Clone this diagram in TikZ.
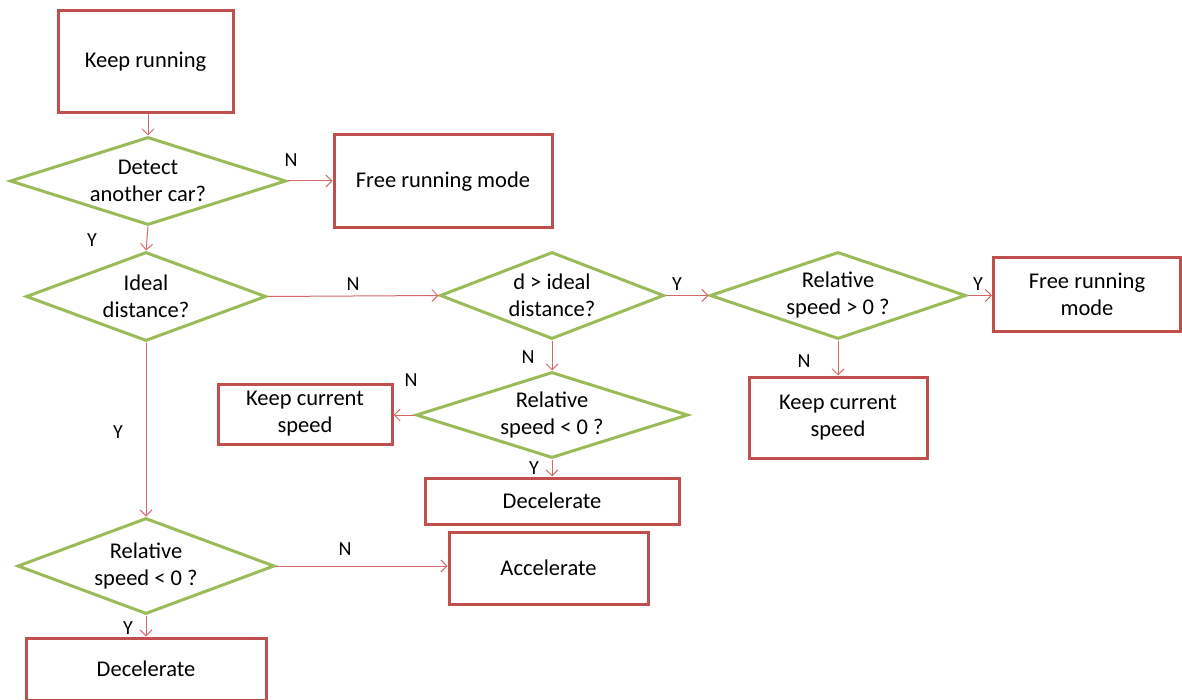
\documentclass[tikz,border=0pt]{standalone}
\usepackage{fontspec}
\setmainfont{Carlito}
\usetikzlibrary{shapes.geometric,arrows.meta}
\definecolor{boxred}{HTML}{C0504D}
\definecolor{diagreen}{HTML}{9BBB59}
\definecolor{arrred}{HTML}{D46A68}
\tikzset{
  box/.style={draw=boxred, line width=3pt, rectangle, inner sep=0pt, align=center,
    font=\fontsize{22.5}{27}\selectfont},
  dia/.style={draw=diagreen, line width=3pt, diamond, inner sep=0pt},
  diatext/.style={inner sep=0pt, align=center, font=\fontsize{22.5}{27}\selectfont},
  lbl/.style={inner sep=0pt, font=\fontsize{20}{22}\selectfont},
  arr/.style={draw=arrred, line width=1pt, -{Straight Barb[length=6pt,width=12pt]}},
}
\begin{document}
\begin{tikzpicture}[x=1pt,y=-1pt]
\useasboundingbox (0,0) rectangle (1182,700);
% boxes
\node[box, minimum width=175, minimum height=102] (keep) at (145.5,62) {\raisebox{-2pt}{Keep running}};
\node[box, minimum width=218, minimum height=93] (free1) at (443,181.5) {Free running mode};
\node[box, minimum width=187, minimum height=73] (free2) at (1087,294.5) {Free running\\mode};
\node[box, minimum width=174, minimum height=60] (kcs1) at (305,414) {Keep current\\speed};
\node[box, minimum width=178, minimum height=81] (kcs2) at (838,417.5) {Keep current\\speed};
\node[box, minimum width=254, minimum height=46] (dec1) at (552,501) {Decelerate};
\node[box, minimum width=199, minimum height=72] (acc) at (548.5,568) {Accelerate};
\node[box, minimum width=240, minimum height=62] (dec2) at (146,669) {Decelerate};
% diamonds
\node[dia, minimum width=276, minimum height=88] (d1) at (148,181) {};
\node[diatext] (t1) at (d1) {Detect\\another car?};
\node[dia, minimum width=240, minimum height=89] (d2) at (146,296.5) {};
\node[diatext] (t2) at (d2) {Ideal\\distance?};
\node[dia, minimum width=224, minimum height=87] (d3) at (552,295.5) {};
\node[diatext] (t3) at (d3) {d > ideal\\distance?};
\node[dia, minimum width=256, minimum height=87] (d4) at (838,295.5) {};
\node[diatext] (t4) at (d4) {Relative\\speed > 0 ?};
\node[dia, minimum width=272, minimum height=86] (d5) at (552,415) {};
\node[diatext] (t5) at (d5) {Relative\\speed < 0 ?};
\node[dia, minimum width=257, minimum height=96] (d6) at (146,566) {};
\node[diatext] (t6) at (d6) {Relative\\speed < 0 ?};
% connectors
\draw[arr] (keep.south -| d1.north) -- (d1.north);
\draw[arr] (d1.east) -- (d1.east -| free1.west);
\draw[arr] (d1.south) -- (d2.north);
\draw[arr] (d2.east) -- (d3.west);
\draw[arr] (d3.east) -- (d4.west);
\draw[arr] (d4.east) -- (d4.east -| free2.west);
\draw[arr] (d4.south) -- (kcs2.north);
\draw[arr] (d3.south) -- (d5.north);
\draw[arr] (d5.west) -- (d5.west -| kcs1.east);
\draw[arr] (d5.south) -- (dec1.north);
\draw[arr] (d2.south) -- (d6.north);
\draw[arr] (d6.east) -- (d6.east -| acc.west);
\draw[arr] (d6.south) -- (dec2.north);
% labels
\node[lbl] (lN1) at (291,160) {N};
\node[lbl] (lY1) at (92,240) {Y};
\node[lbl] (lN2) at (353,284) {N};
\node[lbl] (lY2) at (677,284) {Y};
\node[lbl] (lY3) at (978,284) {Y};
\node[lbl] (lN3) at (528,357) {N};
\node[lbl] (lN4) at (411,380) {N};
\node[lbl] (lY4) at (534,468) {Y};
\node[lbl] (lN5) at (804,361) {N};
\node[lbl] (lY5) at (118,432) {Y};
\node[lbl] (lN6) at (345,549) {N};
\node[lbl] (lY6) at (128,628) {Y};
\end{tikzpicture}
\end{document}
